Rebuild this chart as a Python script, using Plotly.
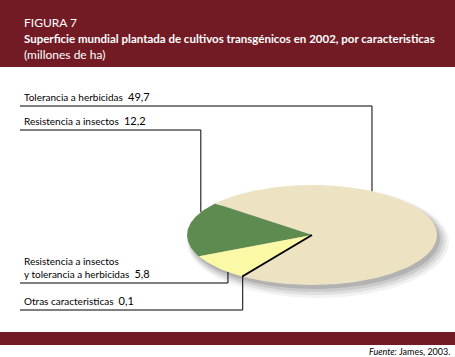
import numpy as np
import plotly.graph_objects as go

# ---- data ----
categories = ["Tolerancia a herbicidas", "Resistencia a insectos",
              "Resistencia a insectos<br>y tolerancia a herbicidas", "Otras caracteristicas"]
values = [49.7, 12.2, 5.8, 0.1]
value_labels = ["49,7", "12,2", "5,8", "0,1"]

# ---- style / layout ----
colors = ["#EDE3C3", "#5E8B50", "#FCF9A6", "#000000"]
W, H = 455, 357
cx, cy, rx, ry = 312, 235, 125, 50
start_angle = -123.4            # degrees, slices run counter-clockwise
label_line_y = [106, 130, 283, 310]
anchor_frac = [0.70, 0.19, 0.73, 0.5]   # where along each slice the leader meets the rim
RED = "#721B24"
FONT = "Lato"


def pt(theta_deg, r=1.0):
    t = np.radians(theta_deg)
    return cx + r * rx * np.cos(t), cy - r * ry * np.sin(t)


fig = go.Figure()

# shadow
for k, (dx, dy, grow, a) in enumerate([(6, 7, 6, 0.05), (5, 6, 4, 0.07), (4, 5, 2, 0.09), (3, 4, 0, 0.12)]):
    th = np.linspace(0, 360, 200)
    t = np.radians(th)
    xs = cx + dx + (rx + grow) * np.cos(t)
    ys = cy + dy - (ry + grow) * np.sin(t)
    fig.add_trace(go.Scatter(x=xs, y=ys, fill="toself", mode="lines", line=dict(width=0),
                             fillcolor=f"rgba(0,0,0,{a})", hoverinfo="skip", showlegend=False))

total = sum(values)
angles = []
a0 = start_angle
for v in values:
    a1 = a0 + 360 * v / total
    angles.append((a0, a1))
    a0 = a1

for i, (v, (a0, a1)) in enumerate(zip(values, angles)):
    th = np.linspace(a0, a1, max(3, int(abs(a1 - a0) * 2)))
    px, py = pt(th)
    xs = np.concatenate([[cx], px, [cx]])
    ys = np.concatenate([[cy], py, [cy]])
    lw = 2 if colors[i] == "#000000" else 0
    fig.add_trace(go.Scatter(x=xs, y=ys, fill="toself", mode="lines",
                             line=dict(width=lw, color=colors[i]), fillcolor=colors[i],
                             hoverinfo="skip", showlegend=False))

# leader lines and labels
for i, (cat, lab) in enumerate(zip(categories, value_labels)):
    a0, a1 = angles[i]
    ax, ay = pt(a0 + anchor_frac[i] * (a1 - a0))
    ly = label_line_y[i]
    fig.add_trace(go.Scatter(x=[20, ax, ax], y=[ly, ly, ay], mode="lines",
                             line=dict(color="black", width=1), hoverinfo="skip", showlegend=False))
    fig.add_annotation(x=22, y=ly - 1, xref="x", yref="y", xanchor="left", yanchor="bottom",
                       text=f"{cat}  <span style='font-size:11px'>{lab}</span>",
                       showarrow=False, align="left",
                       font=dict(family=FONT, size=10, color="black"))

shapes = [
    dict(type="rect", xref="x", yref="y", x0=0, x1=W, y0=0, y1=67, fillcolor=RED, line=dict(width=0), layer="below"),
    dict(type="rect", xref="x", yref="y", x0=0, x1=W, y0=332, y1=345, fillcolor=RED, line=dict(width=0), layer="below"),
]

fig.add_annotation(x=22, y=22, xref="x", yref="y", xanchor="left", yanchor="middle", showarrow=False,
                   text="FIGURA 7", font=dict(family=FONT, size=12, color="white"))
fig.add_annotation(x=22, y=38, xref="x", yref="y", xanchor="left", yanchor="middle", showarrow=False,
                   text="<b>Superficie mundial plantada de cultivos transgénicos en 2002, por caracteristicas</b>",
                   font=dict(family=FONT, size=11.5, color="white"))
fig.add_annotation(x=22, y=54, xref="x", yref="y", xanchor="left", yanchor="middle", showarrow=False,
                   text="(millones de ha)", font=dict(family=FONT, size=12, color="white"))
fig.add_annotation(x=452, y=351, xref="x", yref="y", xanchor="right", yanchor="middle", showarrow=False,
                   text="<i>Fuente:</i> James, 2003.", font=dict(family=FONT, size=9, color="black"))

fig.update_layout(
    width=W, height=H, margin=dict(l=0, r=0, t=0, b=0),
    paper_bgcolor="white", plot_bgcolor="white",
    xaxis=dict(range=[0, W], visible=False, fixedrange=True),
    yaxis=dict(range=[H, 0], visible=False, fixedrange=True),
    shapes=shapes, showlegend=False,
)
fig.write_html("out.html", config={"displayModeBar": False},
               post_script="document.body.style.margin='0';document.body.style.padding='0';")
